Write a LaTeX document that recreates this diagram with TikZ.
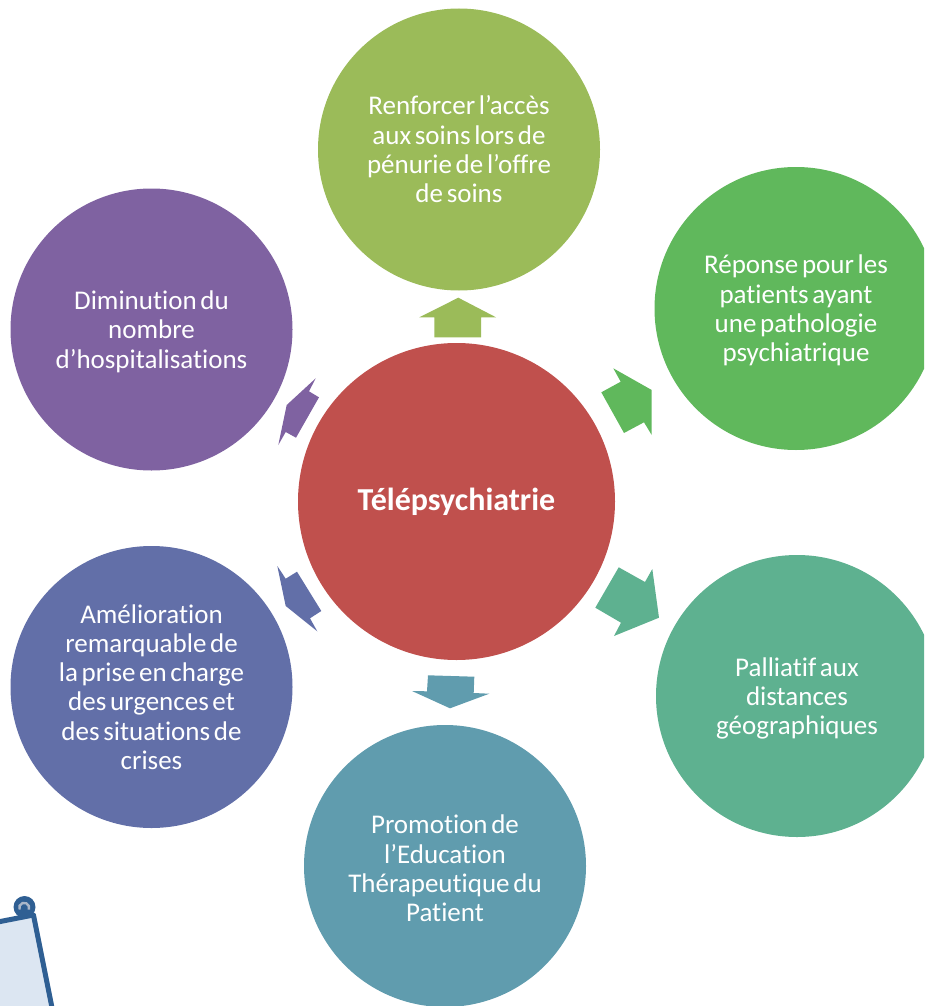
\documentclass[tikz,border=0pt]{standalone}
\usepackage{fontspec}
\setmainfont{Carlito}[WordSpace=0.6,Ligatures={NoCommon,NoRare,NoContextual},RawFeature={-liga;-clig;-dlig}]
\definecolor{cred}{HTML}{C0504D}
\definecolor{colive}{HTML}{9BBB59}
\definecolor{cgreen}{HTML}{60B85C}
\definecolor{csea}{HTML}{5EB190}
\definecolor{cteal}{HTML}{609CAE}
\definecolor{cblue}{HTML}{626FA8}
\definecolor{cpurple}{HTML}{7F62A1}
\definecolor{notefill}{HTML}{DCE6F2}
\definecolor{noteline}{HTML}{2F5F93}
\definecolor{notering}{HTML}{A9B6C8}
\tikzset{
  bubble/.style={circle,inner sep=0pt,minimum size=#1,text=white,align=center,
    font=\fontsize{27}{29.3}\selectfont},
}
\begin{document}
\begin{tikzpicture}[x=1pt,y=-1pt]
\useasboundingbox (0,0) rectangle (924,1006);
\clip (0,0) rectangle (924,1006);
% arrows
\fill[colive] (458.3,297.7)--(496,317.3)--(481,317.3)--(481,337.3)--(434.3,337.3)--(434.3,317.3)--(419.3,317.3)--cycle;
\fill[cgreen] (613.3,368.3)--(651.7,390)--(651.7,435)--(644,422.3)--(624,433)--(601.3,392.3)--(620.7,381.7)--cycle;
\fill[csea] (618.7,567.3)--(645,582)--(652.3,569)--(659,617.7)--(614,636)--(621,622.7)--(595.3,607.7)--cycle;
\fill[cteal] (428,675.3)--(474.3,676.7)--(473.7,693)--(489.3,693.7)--(450,708.3)--(412,691)--(427,691.3)--cycle;
\fill[cblue] (277.3,566)--(285.7,578.7)--(297,571.7)--(321.3,611)--(310,618.3)--(317.3,631.3)--(285.7,606)--cycle;
\fill[cpurple] (315.7,378.3)--(309,391.3)--(319,397.3)--(296,437.7)--(285.7,432)--(278.3,445)--(286.7,405)--cycle;
% circles
\node[bubble=317pt,fill=cred,font=\fontsize{32}{36}\selectfont\bfseries] (centre) at (456.5,501.5) {Télépsychiatrie};
\node[bubble=282pt,fill=colive] (acces) at (459,149.5) {Renforcer l’accès\\aux soins lors de\\pénurie de l’offre\\de soins};
\node[bubble=283pt,fill=cgreen] (reponse) at (796,308.5) {Réponse pour les\\patients ayant\\une pathologie\\\smash{psychiatrique}};
\node[bubble=282pt,fill=csea] (palliatif) at (797,696) {Palliatif aux\\distances\\\smash{géographiques}};
\node[bubble=282pt,fill=cteal] (promotion) at (445,866) {\rule{0pt}{24pt}Promotion de\\l’Education\\Thérapeutique du\\Patient};
\node[bubble=282pt,fill=cblue] (amelioration) at (151.5,687) {Amélioration\\remarquable de\\la prise en charge\\des urgences et\\des situations de\\crises};
\node[bubble=282pt,fill=cpurple] (diminution) at (151.5,329.5) {Diminution du\\nombre\\\smash{d’hospitalisations}};
% note
\draw[noteline,line width=5pt,fill=notefill,line join=round] (-10,923.5)--(33.5,915)--(54.5,1020)--(-10,1020)--cycle;
\fill[noteline] (24.5,907) circle (11);
\draw[notering,line width=2.4pt] (19.5,909.5) arc[start angle=-200,end angle=20,radius=5];
\end{tikzpicture}
\end{document}
